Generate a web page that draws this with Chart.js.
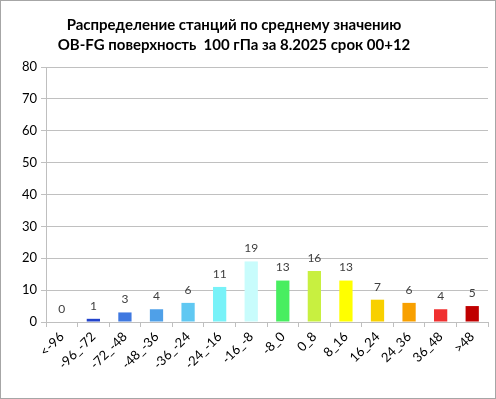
<!DOCTYPE html>
<html>
<head>
<meta charset="utf-8">
<script src="https://cdn.jsdelivr.net/npm/chart.js@4/dist/chart.umd.min.js"></script>
<style>
  html, body { margin: 0; padding: 0; background: #fff; }
  #wrap { width: 496px; height: 399px; }
</style>
</head>
<body>
<div id="wrap"><canvas id="chart" width="496" height="399"></canvas></div>
<script>
// Bins of OB-FG
const categories = ["<-96", "-96_-72", "-72_-48", "-48_-36", "-36_-24", "-24_-16", "-16_-8",
                    "-8_0", "0_8", "8_16", "16_24", "24_36", "36_48", ">48"];
const stationCounts = [0, 1, 3, 4, 6, 11, 19, 13, 16, 13, 7, 6, 4, 5];
const barColors = ["#2244cc", "#2244cc", "#3f78e0", "#4fa0e8", "#60c8f2", "#78f2f8", "#c8fcfc",
                   "#48ee60", "#c8f040", "#ffff00", "#f8d000", "#f8a000", "#f03030", "#c00000"];
const yTicks = [0, 10, 20, 30, 40, 50, 60, 70, 80];
const titleLines = ["Распределение станций по среднему значению",
                    "OB-FG поверхность  100 гПа за 8.2025 срок 00+12"];

// white background, thin frame and the two-line title (set a bit left of centre, as in Excel)
const framePlugin = {
  id: "frame",
  beforeDraw(chart) {
    const ctx = chart.ctx;
    ctx.save();
    ctx.fillStyle = "#ffffff";
    ctx.fillRect(0, 0, chart.width, chart.height);
    ctx.strokeStyle = "#a6a6a6";
    ctx.lineWidth = 1;
    ctx.strokeRect(0.5, 0.5, chart.width - 1, chart.height - 1);
    ctx.font = "bold 15px Lato";
    ctx.fillStyle = "#000000";
    ctx.textAlign = "center";
    ctx.textBaseline = "middle";
    ctx.fillText(titleLines[0], 234, 25);
    ctx.fillText(titleLines[1], 234, 45);
    ctx.restore();
  }
};

// value labels above bars
const valueLabels = {
  id: "valueLabels",
  afterDatasetsDraw(chart) {
    const ctx = chart.ctx;
    const meta = chart.getDatasetMeta(0);
    ctx.save();
    ctx.font = "12px Lato";
    ctx.fillStyle = "#404040";
    ctx.textAlign = "center";
    ctx.textBaseline = "bottom";
    meta.data.forEach((bar, i) => {
      ctx.fillText(String(stationCounts[i]), bar.x, bar.y - 7);
    });
    ctx.restore();
  }
};

new Chart(document.getElementById("chart"), {
  type: "bar",
  data: {
    labels: categories,
    datasets: [{
      data: stationCounts,
      backgroundColor: barColors,
      borderWidth: 0,
      barPercentage: 0.42,
      categoryPercentage: 1
    }]
  },
  options: {
    responsive: false,
    animation: false,
    layout: { padding: { left: 0, right: 8, top: 67, bottom: 0 } },
    plugins: {
      legend: { display: false },
      tooltip: { enabled: false },
      title: { display: false }
    },
    scales: {
      x: {
        offset: true,
        grid: { display: true, drawOnChartArea: false, drawTicks: true, tickLength: 5, color: "#bfbfbf", offset: true },
        border: { color: "#bfbfbf" },
        ticks: { color: "#000000", font: { family: "Lato", size: 13 }, minRotation: 45, maxRotation: 45, autoSkip: false, padding: 2 },
        afterFit: (scale) => { scale.height = 77; }
      },
      y: {
        min: 0,
        max: 80,
        afterBuildTicks: (scale) => { scale.ticks = yTicks.map(v => ({ value: v })); },
        grid: { color: "#c0c0c0", tickLength: 5 },
        border: { color: "#bfbfbf" },
        ticks: { color: "#000000", font: { family: "Lato", size: 13 }, padding: 4 },
        afterFit: (scale) => { scale.width = 46; }
      }
    }
  },
  plugins: [framePlugin, valueLabels]
});
</script>
</body>
</html>
